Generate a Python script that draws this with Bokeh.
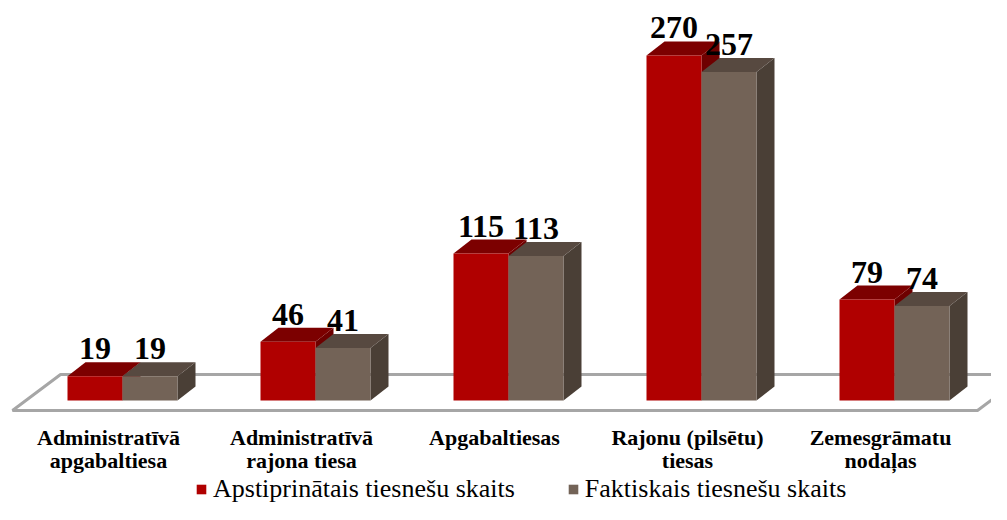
from bokeh.plotting import figure
from bokeh.models import Range1d, Legend, LegendItem, ColumnDataSource
from bokeh.embed import file_html
from bokeh.resources import INLINE
from bokeh.core.properties import value

# ---- data ----
categories = ["Administratīvā\napgabaltiesa", "Administratīvā\nrajona tiesa",
              "Apgabaltiesas", "Rajonu (pilsētu)\ntiesas", "Zemesgrāmatu\nnodaļas"]
approved = [19, 46, 115, 270, 79]
actual = [19, 41, 113, 257, 74]
series_names = ["Apstiprinātais tiesnešu skaits", "Faktiskais tiesnešu skaits"]

# ---- styling / geometry ----
W, H = 991, 504
PX_CAT = 193.0      # pixels per category
PX_VAL = 1.278      # pixels per unit value
X_OFF = 122.0       # px of first category centre from left
Y_OFF = 104.0       # px of baseline from bottom

front_cols = ["#B00000", "#736357"]
top_cols = ["#7C0000", "#574940"]
side_cols = ["#6E0000", "#4A3F36"]

bw = 55 / PX_CAT
dx = 18 / PX_CAT
dy = 14 / PX_VAL

p = figure(width=W, height=H, output_backend="svg", toolbar_location=None,
           x_range=Range1d(-X_OFF / PX_CAT, (W - X_OFF) / PX_CAT),
           y_range=Range1d(-Y_OFF / PX_VAL, (H - Y_OFF) / PX_VAL),
           min_border=0, outline_line_color=None)
p.xaxis.visible = False
p.yaxis.visible = False
p.xgrid.visible = False
p.ygrid.visible = False
p.background_fill_color = "white"
p.border_fill_color = "white"

n = len(categories)
# floor
fl_front = -7.8
fl_back = 20.3
fl_left = -0.57
fl_shift = 0.249
p.patch([fl_left, n + fl_left, n + fl_left + fl_shift, fl_left + fl_shift],
        [fl_front, fl_front, fl_back, fl_back],
        fill_color="white", line_color="#A6A6A6", line_width=3)

xs, ys, cols = [], [], []
front_index = {}
for i in range(n):
    for s, vals in enumerate([approved, actual]):
        v = vals[i]
        l = i - bw + s * bw
        r = l + bw
        # side
        xs.append([r, r + dx, r + dx, r]); ys.append([0, dy, v + dy, v]); cols.append(side_cols[s])
        # top
        xs.append([l, r, r + dx, l + dx]); ys.append([v, v, v + dy, v + dy]); cols.append(top_cols[s])
        # front
        xs.append([l, r, r, l]); ys.append([0, 0, v, v]); cols.append(front_cols[s])
        front_index.setdefault(s, len(xs) - 1)

src = ColumnDataSource(dict(xs=xs, ys=ys, color=cols))
bars = p.patches("xs", "ys", source=src, fill_color="color", line_color=None)

# value labels
lx, ly, lt = [], [], []
for i in range(n):
    for s, vals in enumerate([approved, actual]):
        v = vals[i]
        lx.append(i - bw / 2 + s * bw)
        ly.append(v + dy + 13.5 / PX_VAL)
        lt.append(str(v))
p.text(lx, ly, text=lt, text_font=value("Liberation Serif"), text_font_style="bold",
       text_font_size="32px", text_align="center", text_baseline="alphabetic", text_color="black")

# category labels
cx, cy, ct = [], [], []
line0 = -28.95
line_step = 23 / PX_VAL
label_shift = -14 / PX_CAT
for i, c in enumerate(categories):
    for k, part in enumerate(c.split("\n")):
        cx.append(i + label_shift)
        cy.append(line0 - k * line_step)
        ct.append(part)
p.text(cx, cy, text=ct, text_font=value("Liberation Serif"), text_font_style="bold",
       text_font_size="22px", text_align="center", text_baseline="middle", text_color="black")

legend = Legend(items=[LegendItem(label=series_names[0], renderers=[bars], index=front_index[0]),
                       LegendItem(label=series_names[1], renderers=[bars], index=front_index[1])],
                orientation="horizontal", location=(195, 0),
                label_text_font="Liberation Serif", label_text_font_size="26px",
                label_text_color="black", glyph_width=12, glyph_height=12,
                label_standoff=6, spacing=52, padding=0, margin=0,
                border_line_color=None, background_fill_alpha=0)
p.add_layout(legend, "center")

open("out.html", "w").write(file_html(p, INLINE))
